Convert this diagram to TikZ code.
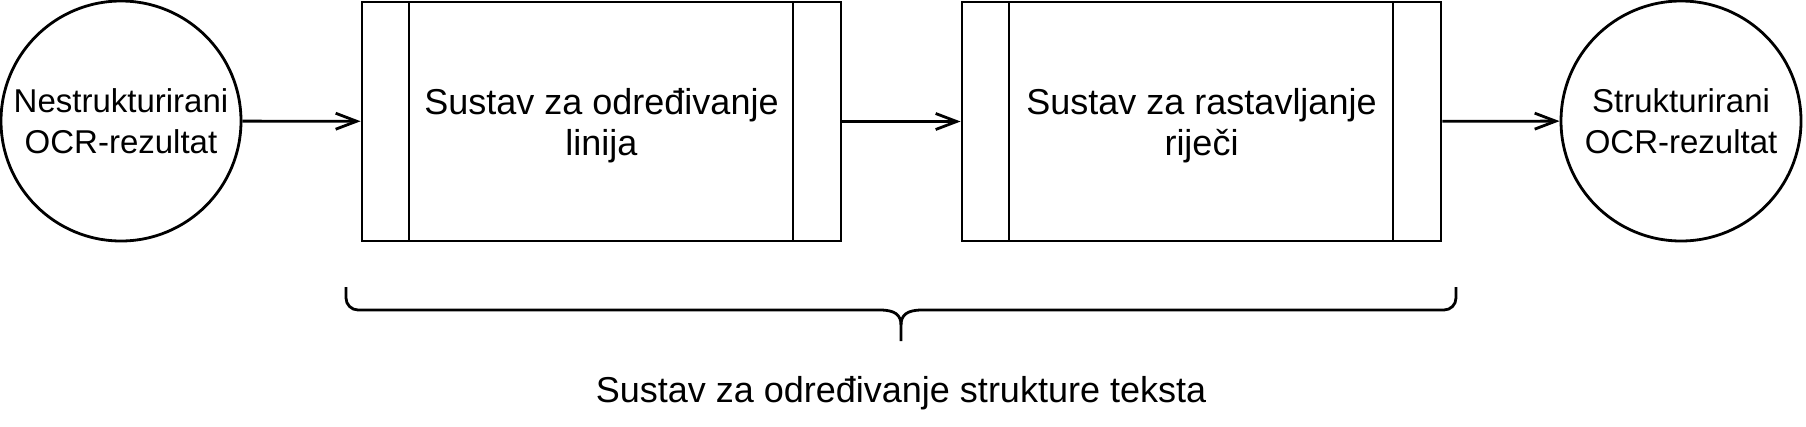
\documentclass[tikz,border=0pt]{standalone}
\usepackage{fontspec}
\setmainfont{Liberation Sans}
\usetikzlibrary{arrows.meta}
\tikzset{
  krug/.style={draw, circle, minimum size=240pt, inner sep=0pt, align=center,
    font=\fontsize{33}{41}\selectfont},
  proces/.style={draw, rectangle, minimum width=479pt, minimum height=239pt,
    align=center, font=\fontsize{36}{41}\selectfont, text depth=-2pt,
    path picture={
      \draw ([xshift=47pt]path picture bounding box.north west)--([xshift=47pt]path picture bounding box.south west);
      \draw ([xshift=-48pt]path picture bounding box.north east)--([xshift=-48pt]path picture bounding box.south east);
    }},
}
\begin{document}
\begin{tikzpicture}[x=1pt,y=1pt,line width=2.8pt,>={Straight Barb[length=21pt,width=16pt]}]
    \useasboundingbox (0,0) rectangle (1806,-426);
    \node[krug] (ulaz) at (121,-121) {Nestrukturirani\\OCR-rezultat};
    \node[proces] (linije) at (601.5,-121.5) {Sustav za određivanje\\linija};
    \node[proces] (rijeci) at (1201.5,-121.5) {Sustav za rastavljanje\\riječi};
    \node[krug] (izlaz) at (1681,-121) {Strukturirani\\OCR-rezultat};
\draw[->](ulaz)--(linije);
\draw[->](linije)--(rijeci);
\draw[->](rijeci)--(izlaz);
% viticasta zagrada
\draw(346,-287)--(346,-298)arc(180:270:12)--(880,-310)
    ..controls(895,-310)and(901,-315)..(901,-325)--(901,-341);
\draw(1456,-287)--(1456,-298)arc(0:-90:12)--(922,-310)
    ..controls(907,-310)and(901,-315)..(901,-325);
\node[font=\fontsize{36}{42}\selectfont] (opis) at (901,-393){Sustav za određivanje strukture teksta};
\end{tikzpicture}
\end{document}
